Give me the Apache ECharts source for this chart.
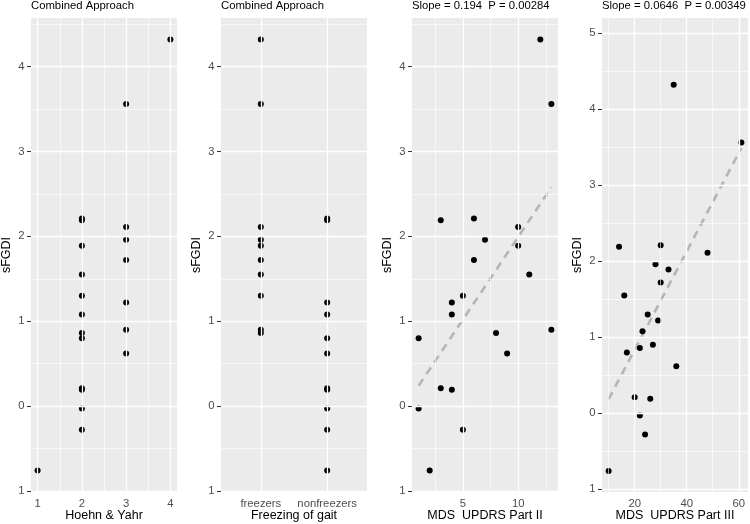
<!DOCTYPE html>
<html>
<head>
<meta charset="utf-8">
<script src="https://cdn.jsdelivr.net/npm/echarts@6/dist/echarts.min.js"></script>
<style>
html, body { margin: 0; padding: 0; background: #fff; }
#chart { width: 750px; height: 524px; }
</style>
</head>
<body>
<div id="chart"></div>
<script>
// one entry per subject
var sfgdi = [4.32, 3.56, 2.21, 2.19, 2.11, 1.96, 1.89, 1.72, 1.55, 1.30, 1.22, 1.08, 0.90, 0.86, 0.80, 0.62, 0.21, 0.19, -0.03, -0.28, -0.76];
var hoehnYahr = [4, 3, 2, 2, 3, 3, 2, 3, 2, 2, 3, 2, 3, 2, 2, 3, 2, 2, 2, 2, 1];
var fog = ['freezers', 'freezers', 'nonfreezers', 'nonfreezers', 'freezers', 'freezers', 'freezers', 'freezers',
  'freezers', 'freezers', 'nonfreezers', 'nonfreezers', 'freezers', 'freezers', 'nonfreezers', 'nonfreezers',
  'nonfreezers', 'nonfreezers', 'nonfreezers', 'nonfreezers', 'nonfreezers'];
var updrs2 = [12, 13, 6, 3, 10, 7, 10, 6, 11, 5, 4, 4, 13, 8, 1, 9, 3, 4, 1, 5, 2];
var updrs3 = [35, 61, 30, 14, 48, 28, 33, 30, 16, 25, 29, 23, 27, 22, 17, 36, 20, 26, 22, 24, 10];

var fogCats = ['freezers', 'nonfreezers'];
var titles = ['Combined Approach', 'Combined Approach', 'Slope = 0.194  P = 0.00284', 'Slope = 0.0646  P = 0.00349'];
var xNames = ['Hoehn & Yahr', 'Freezing of gait', 'MDS  UPDRS Part II', 'MDS  UPDRS Part III'];

// tick labels / grid breaks
var xTicks = [[1, 2, 3, 4], [1, 2], [5, 10], [20, 40, 60]];
var xMinor = [[1.5, 2.5, 3.5], [], [2.5, 7.5, 12.5], [10, 30, 50]];
var yTicks = [[-1, 0, 1, 2, 3, 4], [-1, 0, 1, 2, 3, 4], [-1, 0, 1, 2, 3, 4], [-1, 0, 1, 2, 3, 4, 5]];
var yMinor = [-0.5, 0.5, 1.5, 2.5, 3.5, 4.5];
var xRange = [[0.85, 4.15], [0.4, 2.6], [0.4, 13.6], [7.45, 63.55]];
var yRange = [[-1.014, 4.574], [-1.014, 4.574], [-1.014, 4.574], [-1.035, 5.198]];

var myChart = echarts.init(document.getElementById('chart'));
var font = 'Liberation Sans, Arial, sans-serif';
var lefts = [31, 221, 412, 602];

// ggplot style lm line over the data range
function fitLine(xs, ys) {
  var n = xs.length, mx = 0, my = 0;
  for (var i = 0; i < n; i++) { mx += xs[i]; my += ys[i]; }
  mx /= n; my /= n;
  var sxy = 0, sxx = 0;
  for (var j = 0; j < n; j++) { sxy += (xs[j] - mx) * (ys[j] - my); sxx += (xs[j] - mx) * (xs[j] - mx); }
  var b = sxy / sxx, a = my - b * mx;
  var lo = Math.min.apply(null, xs), hi = Math.max.apply(null, xs);
  return [[lo, a + b * lo], [hi, a + b * hi]];
}

var xVals = [
  hoehnYahr,
  fog.map(function (f) { return fogCats.indexOf(f) + 1; }),
  updrs2,
  updrs3
];

var grids = [], xAxes = [], yAxes = [], series = [], title = [];
for (var p = 0; p < 4; p++) {
  grids.push({ left: lefts[p], top: 18, width: 146, height: 474, show: true, backgroundColor: '#EBEBEB', borderWidth: 0, outerBoundsMode: 'none' });
  title.push({ text: titles[p], left: lefts[p], top: 0, padding: 0,
    textStyle: { fontFamily: font, fontSize: 11.3, fontWeight: 'normal', color: '#000' } });

  var px = p;
  xAxes.push({
    type: 'value', gridIndex: p, min: xRange[p][0], max: xRange[p][1],
    name: xNames[p], nameLocation: 'middle', nameGap: 17, nameMoveOverlap: false,
    nameTextStyle: { fontFamily: font, fontSize: 12.5, color: '#000' },
    axisLine: { show: false },
    splitLine: { show: false },
    axisTick: { show: true, length: 4, customValues: xTicks[p], lineStyle: { color: '#333', width: 1 } },
    axisLabel: {
      customValues: xTicks[p], margin: 6, color: '#4D4D4D', fontFamily: font, fontSize: 11.3,
      formatter: p === 1 ? function (v) { return fogCats[Math.round(v) - 1]; } : function (v) { return String(v); }
    }
  });
  yAxes.push({
    type: 'value', gridIndex: p, min: yRange[p][0], max: yRange[p][1],
    name: 'sFGDI', nameLocation: 'middle', nameGap: 17.5, nameMoveOverlap: false,
    nameTextStyle: { fontFamily: font, fontSize: 12.5, color: '#000' },
    axisLine: { show: false },
    splitLine: { show: false },
    axisTick: { show: true, length: 4, customValues: yTicks[p], lineStyle: { color: '#333', width: 1 } },
    axisLabel: {
      customValues: yTicks[p], margin: 6.5, color: '#4D4D4D', fontFamily: font, fontSize: 11.3,
      // the minus sign is lost in the original render
      formatter: function (v) { return String(Math.abs(v)); }
    }
  });

  // white panel grid
  var gl = [];
  yMinor.forEach(function (v) { gl.push({ yAxis: v, lineStyle: { color: '#fff', width: 0.6, type: 'solid' } }); });
  yTicks[p].forEach(function (v) { gl.push({ yAxis: v, lineStyle: { color: '#fff', width: 1.3, type: 'solid' } }); });
  xMinor[p].forEach(function (v) { gl.push({ xAxis: v, lineStyle: { color: '#fff', width: 0.6, type: 'solid' } }); });
  xTicks[p].forEach(function (v) { gl.push({ xAxis: v, lineStyle: { color: '#fff', width: 1.3, type: 'solid' } }); });
  series.push({
    type: 'line', xAxisIndex: p, yAxisIndex: p, data: [], silent: true, z: 1,
    markLine: { silent: true, symbol: ['none', 'none'], animation: false, label: { show: false }, data: gl }
  });

  if (p >= 2) {
    series.push({
      type: 'line', xAxisIndex: p, yAxisIndex: p, data: fitLine(xVals[p], sfgdi),
      symbol: 'none', silent: true, z: 2, animation: false,
      lineStyle: { color: '#B5B5B5', width: 2.6, type: [8, 6] }
    });
  }

  series.push({
    type: 'scatter', xAxisIndex: p, yAxisIndex: p, z: 3, animation: false,
    symbolSize: 6, itemStyle: { color: '#000', opacity: 1 },
    data: sfgdi.map(function (v, i) { return [xVals[px][i], v]; })
  });
}

var option = {
  backgroundColor: '#fff',
  animation: false,
  title: title,
  grid: grids,
  xAxis: xAxes,
  yAxis: yAxes,
  series: series
};
myChart.setOption(option);
window.addEventListener('resize', function () { myChart.resize(); });
</script>
</body>
</html>
